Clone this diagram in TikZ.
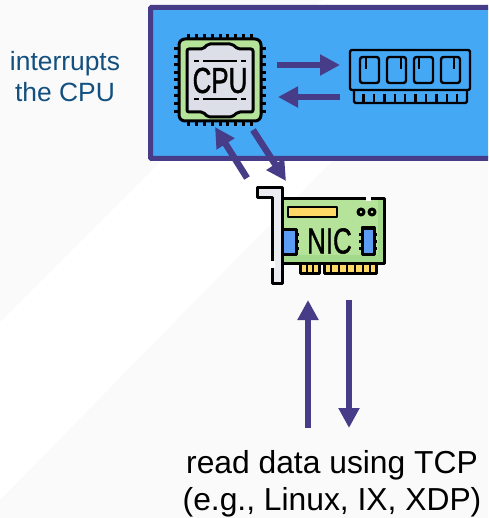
\documentclass[tikz,border=0pt]{standalone}
\usepackage{fontspec}
\setmainfont{Liberation Sans}
\newfontfamily\iconfont[FakeBold=1.5]{Liberation Sans}
\usetikzlibrary{arrows.meta}
\definecolor{flowcol}{HTML}{463C87}
\definecolor{hostblue}{HTML}{45A8F5}
\definecolor{boardgreen}{HTML}{B5E39A}
\definecolor{boardshade}{HTML}{A3D98A}
\definecolor{chipgrey}{HTML}{DCDFE8}
\definecolor{pinyellow}{HTML}{FFD966}
\definecolor{nicblue}{HTML}{5B9DF5}
\definecolor{notecol}{HTML}{13507F}
\tikzset{
    flow/.style = {
        draw=flowcol,
        line width=6.5pt,
        -{Triangle[width=20pt,length=20pt]}},
    iconline/.style = {
        draw=black,
        line width=3pt,
        line join=round},
    thinline/.style = {
        draw=black,
        line width=2.4pt,
        line join=round},
    body/.style = {
        shape=rectangle,
        iconline,
        outer sep=0pt,
        inner sep=0pt},
    icontext/.style = {
        font=\iconfont\fontsize{36}{36}\selectfont,
        xscale=0.72,
        inner sep=0pt},
    note/.style = {
        align=center,
        inner sep=0pt}
}

\begin{document}
\begin{tikzpicture}[
    x                 = 1pt,
    y                 = -1pt,
    every node/.style = {text=black}
]

\clip (0,0) rectangle (488,518);
\fill [black!2!white] (0,0) rectangle (488,518);
\fill [white] (0,322) -- (322,0) -- (490,0) -- (0,500) -- cycle;

\draw [draw=flowcol, fill=hostblue, line width=5pt, rounded corners=1pt]
    (150.5,7.3) rectangle (500,158.5);

% cpu
\foreach \p in {-31.2,-23.4,...,31.3} {
    \draw [iconline] (220+\p,34) -- (220+\p,40);
    \draw [iconline] (220+\p,120) -- (220+\p,126);
    \draw [iconline] (174,80+\p) -- (180,80+\p);
    \draw [iconline] (260,80+\p) -- (266,80+\p);
}
\node [body, fill=boardgreen, rounded corners=6pt, minimum width=82pt, minimum height=82pt]
    (cpu) at (220,80) {};
\draw [iconline, fill=chipgrey, rounded corners=2pt]
    (187,49) -- (203,49) -- (208,44) -- (232,44) -- (238,49) -- (253,49)
    -- (253,112) -- (238,112) -- (232,117) -- (208,117) -- (203,112) -- (187,112) -- cycle;
\foreach \y in {61,99} {
    \draw [thinline] (194,\y) -- (199,\y);
    \draw [thinline] (203,\y) -- (237,\y);
    \draw [thinline] (241,\y) -- (246,\y);
}
\node [icontext] (cpulabel) at (220,80.5) {CPU};

% ram
\draw [thinline, rounded corners=1.5pt] (354,90) -- (354,103) -- (467,103) -- (467,90);
\foreach \i in {0,...,9}
    \draw [thinline] (363.5+10.4*\i,94) -- (363.5+10.4*\i,103);
\node [body, thinline, rounded corners=2pt, minimum width=120pt, minimum height=40pt]
    (ram) at (410,70) {};
\foreach \x/\t in {360/366, 387/401, 414/419, 441/454} {
    \draw [thinline, rounded corners=2.5pt] (\x,57) rectangle (\x+19,83);
    \draw [thinline] (\t,58) -- (\t,69);
}

% nic
\draw [iconline, fill=pinyellow] (300,262) rectangle (319,273);
\draw [iconline, fill=pinyellow] (324,262) rectangle (376,273);
\foreach \x in {306.5,313}
    \draw [black, line width=2pt] (\x,263) -- (\x,272);
\foreach \x in {331,339,347,355,363,370}
    \draw [black, line width=2pt] (\x,263) -- (\x,272);
\node [body, fill=boardgreen, minimum width=102pt, minimum height=64pt, anchor=north west]
    (nic) at (282,199) {};
\fill [boardshade] (283.5,255) rectangle (382.5,261.5);
\fill [boardshade] (378,200.5) rectangle (382.5,261.5);
\fill [white] (366,196) rectangle (371,201);
\draw [iconline, fill=chipgrey!60!white]
    (257,188) -- (282,188) -- (282,283) -- (272,283) -- (272,198) -- (257,198) -- cycle;
\fill [white] (269,261) rectangle (275,268);
\draw [thinline, fill=pinyellow] (288,207) rectangle (337,217);
\draw [iconline] (361,212) circle (3pt);
\draw [iconline] (372,212) circle (3pt);
\draw [iconline, fill=nicblue] (282,229) rectangle (296,254);
\draw [iconline, fill=nicblue] (362,228) rectangle (374,254);
\foreach \y in {234,241,248} {
    \draw [iconline] (296,\y) -- (299,\y);
    \draw [iconline] (359,\y) -- (362,\y);
    \draw [iconline] (374,\y) -- (377,\y);
}
\node [icontext] (niclabel) at (329.5,241) {NIC};

% texts
\node [note, text=notecol, font=\fontsize{26.4}{31}\selectfont, anchor=north]
    (interrupts) at (65,51) {interrupts\\the CPU};
\node [note, font=\fontsize{31.8}{37}\selectfont, anchor=north]
    (tcp) at (332,450) {read data using TCP\\(e.g., Linux, IX, XDP)};

% flows
\draw [flow] ([shift={(16,-15)}]cpu.east) -- ([shift={(-10,-5)}]ram.west);
\draw [flow] ([shift={(-10,27)}]ram.west) -- ([shift={(17,17)}]cpu.east);
\draw [flow] ([shift={(-86,-21)}]nic.north) -- ([shift={(-5,6)}]cpu.south);
\draw [flow] ([shift={(33,9)}]cpu.south) -- ([shift={(-47,-18)}]nic.north);
\draw [flow] ([shift={(-24,-22)}]tcp.north) -- ([shift={(-25,37)}]nic.south);
\draw [flow] ([shift={(16,37)}]nic.south) -- ([shift={(17,-22)}]tcp.north);

\end{tikzpicture}
\end{document}
